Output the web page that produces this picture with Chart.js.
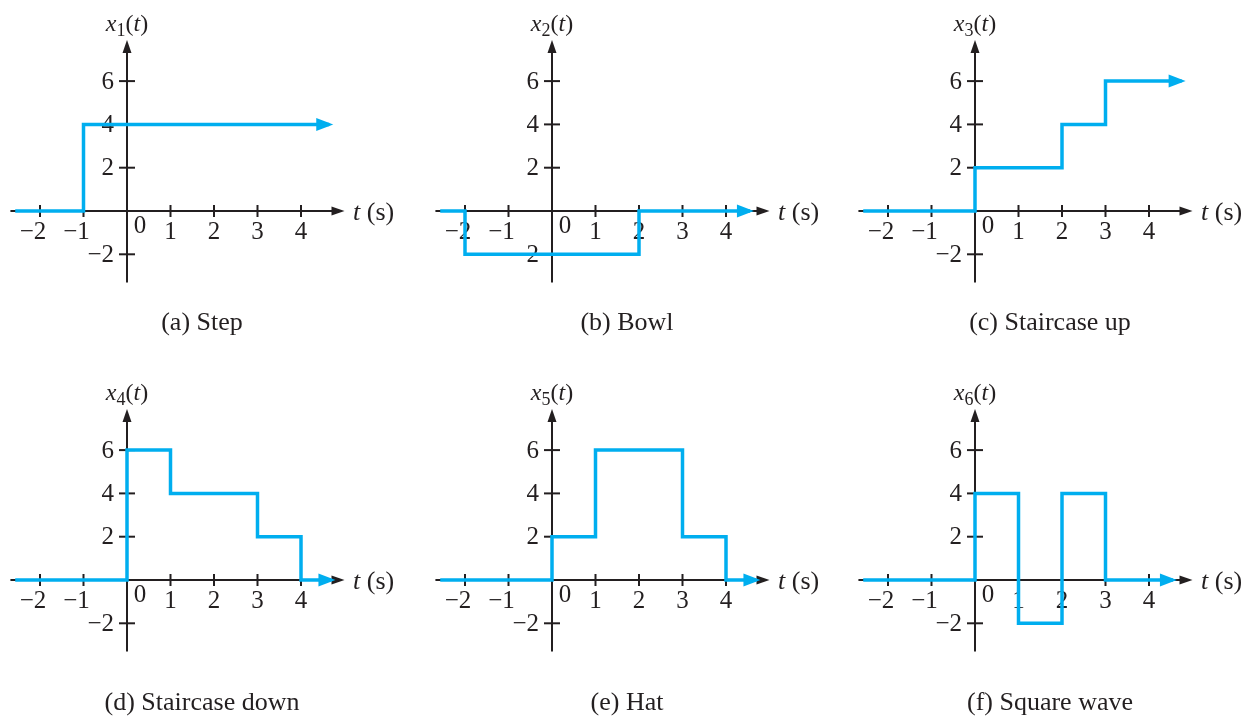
<!DOCTYPE html>
<html>
<head>
<meta charset="utf-8">
<script src="https://cdn.jsdelivr.net/npm/chart.js@4.4.1/dist/chart.umd.min.js"></script>
<style>
  html, body { margin: 0; padding: 0; background: #fff; }
  body { width: 1253px; height: 717px; position: relative; overflow: hidden;
         font-family: 'Liberation Serif', 'Times New Roman', serif; color: #231f20; }
  canvas { position: absolute; }
  .lbl { position: absolute; white-space: nowrap; line-height: 1; transform: translate(-50%, -50%); }
  .ttl { font-size: 24px; }
  .ttl sub { font-size: 18px; vertical-align: -5px; line-height: 0; }
  .unit { font-size: 26px; transform: translate(0, -50%); }
  .cap { font-size: 26px; }
</style>
</head>
<body>
<script>
// signal data: breakpoints (s) and the level that starts at each breakpoint
const t1 = [-2.57, -1, 4.65];
const x1 = [0, 4, 4];
const t2 = [-2.57, -2, 2, 4.55];
const x2 = [0, -2, 0, 0];
const t3 = [-2.57, 0, 2, 3, 4.75];
const x3 = [0, 2, 4, 6, 6];
const t4 = [-2.57, 0, 1, 3, 4, 4.7];
const x4 = [0, 6, 4, 2, 0, 0];
const t5 = [-2.57, 0, 1, 3, 4, 4.7];
const x5 = [0, 2, 6, 2, 0, 0];
const t6 = [-2.57, 0, 1, 2, 3, 4.55];
const x6 = [0, 4, -2, 4, 0, 0];

const captions = ['(a) Step', '(b) Bowl', '(c) Staircase up',
                  '(d) Staircase down', '(e) Hat', '(f) Square wave'];
const xTicks = [-2, -1, 1, 2, 3, 4];
const yTicks = [-2, 2, 4, 6];
const tAxis = [-2.68, 5.0];   // extent of the time axis
const vAxis = [-3.3, 7.9];    // extent of the value axis

const times = [t1, t2, t3, t4, t5, t6];
const levels = [x1, x2, x3, x4, x5, x6];

const INK = '#231f20';
const BLUE = '#00aeef';
const PX_T = 43.5;   // pixels per second
const PX_V = 21.65;  // pixels per unit of value
const W = 424, H = 369;
const ORIGIN_X = [127, 552, 975];
const ORIGIN_Y = [211, 580];
const CAP_DY = [111, 122];
const MINUS = '\u2212';

function arrowHead(ctx, tx, ty, dx, dy, len, half) {
  const bx = tx - dx * len, by = ty - dy * len;
  ctx.beginPath();
  ctx.moveTo(tx, ty);
  ctx.lineTo(bx - dy * half, by + dx * half);
  ctx.lineTo(bx + dy * half, by - dx * half);
  ctx.closePath();
  ctx.fill();
}

const signalAxes = {
  id: 'signalAxes',
  beforeDatasetsDraw(chart) {
    const { ctx, scales: { x, y } } = chart;
    const x0 = x.getPixelForValue(0), y0 = y.getPixelForValue(0);
    ctx.save();
    ctx.strokeStyle = INK;
    ctx.fillStyle = INK;
    ctx.lineWidth = 2;

    const xs = x.getPixelForValue(tAxis[0]), xe = x.getPixelForValue(tAxis[1]);
    ctx.beginPath(); ctx.moveTo(xs, y0); ctx.lineTo(xe - 8, y0); ctx.stroke();
    arrowHead(ctx, xe, y0, 1, 0, 13, 4.5);

    const yb = y.getPixelForValue(vAxis[0]), yt = y.getPixelForValue(vAxis[1]);
    ctx.beginPath(); ctx.moveTo(x0, yb); ctx.lineTo(x0, yt + 8); ctx.stroke();
    arrowHead(ctx, x0, yt, 0, -1, 13, 4.5);

    ctx.font = '25px "Liberation Serif", "Times New Roman", serif';
    ctx.textBaseline = 'middle';
    // time ticks: the digit sits on the tick, a minus sign hangs to its left
    xTicks.forEach(v => {
      const px = x.getPixelForValue(v);
      ctx.beginPath(); ctx.moveTo(px, y0 - 6); ctx.lineTo(px, y0 + 6); ctx.stroke();
      const digits = String(Math.abs(v));
      const half = ctx.measureText(digits).width / 2;
      ctx.textAlign = 'left';
      ctx.fillText(digits, px - half, y0 + 21);
      if (v < 0) {
        ctx.textAlign = 'right';
        ctx.fillText(MINUS, px - half, y0 + 21);
      }
    });
    ctx.textAlign = 'center';
    ctx.fillText('0', x0 + 13, y0 + 15);
    ctx.textAlign = 'right';
    yTicks.forEach(v => {
      const py = y.getPixelForValue(v);
      ctx.beginPath(); ctx.moveTo(x0 - 8, py); ctx.lineTo(x0 + 8, py); ctx.stroke();
      ctx.fillText(v < 0 ? MINUS + Math.abs(v) : String(v), x0 - 13, py + 1);
    });
    ctx.restore();
  },
  afterDatasetsDraw(chart) {
    const pts = chart.getDatasetMeta(0).data;
    const end = pts[pts.length - 1];
    const { ctx } = chart;
    ctx.save();
    ctx.fillStyle = BLUE;
    arrowHead(ctx, end.x + 4, end.y, 1, 0, 17, 6.5);
    ctx.restore();
  }
};

times.forEach((ts, i) => {
  const col = i % 3, row = Math.floor(i / 3);
  const ox = ORIGIN_X[col], oy = ORIGIN_Y[row];
  const left = ox - 127, top = oy - 211;

  const cv = document.createElement('canvas');
  cv.width = W; cv.height = H;
  cv.style.left = left + 'px'; cv.style.top = top + 'px';
  document.body.appendChild(cv);

  const pts = ts.map((t, k) => ({ x: t, y: levels[i][k] }));

  new Chart(cv, {
    type: 'scatter',
    data: {
      datasets: [{
        data: pts,
        showLine: true,
        stepped: 'before',
        borderColor: BLUE,
        borderWidth: 3.5,
        borderCapStyle: 'butt',
        borderJoinStyle: 'miter',
        pointRadius: 0,
        pointHoverRadius: 0,
        clip: false
      }]
    },
    options: {
      responsive: false,
      animation: false,
      events: [],
      layout: { padding: 0 },
      plugins: { legend: { display: false }, tooltip: { enabled: false } },
      scales: {
        x: { type: 'linear', min: -127 / PX_T, max: (W - 127) / PX_T, display: false },
        y: { type: 'linear', min: -(H - 211) / PX_V, max: 211 / PX_V, display: false }
      }
    },
    plugins: [signalAxes]
  });

  const ttl = document.createElement('div');
  ttl.className = 'lbl ttl';
  ttl.innerHTML = '<i>x</i><sub>' + (i + 1) + '</sub>(<i>t</i>)';
  ttl.style.left = ox + 'px'; ttl.style.top = (oy - 188) + 'px';
  document.body.appendChild(ttl);

  const unit = document.createElement('div');
  unit.className = 'lbl unit';
  unit.innerHTML = '<i>t</i> (s)';
  unit.style.left = (ox + 226) + 'px'; unit.style.top = (oy + 1) + 'px';
  document.body.appendChild(unit);

  const cap = document.createElement('div');
  cap.className = 'lbl cap';
  cap.textContent = captions[i];
  cap.style.left = (ox + 75) + 'px'; cap.style.top = (oy + CAP_DY[row]) + 'px';
  document.body.appendChild(cap);
});
</script>
</body>
</html>
